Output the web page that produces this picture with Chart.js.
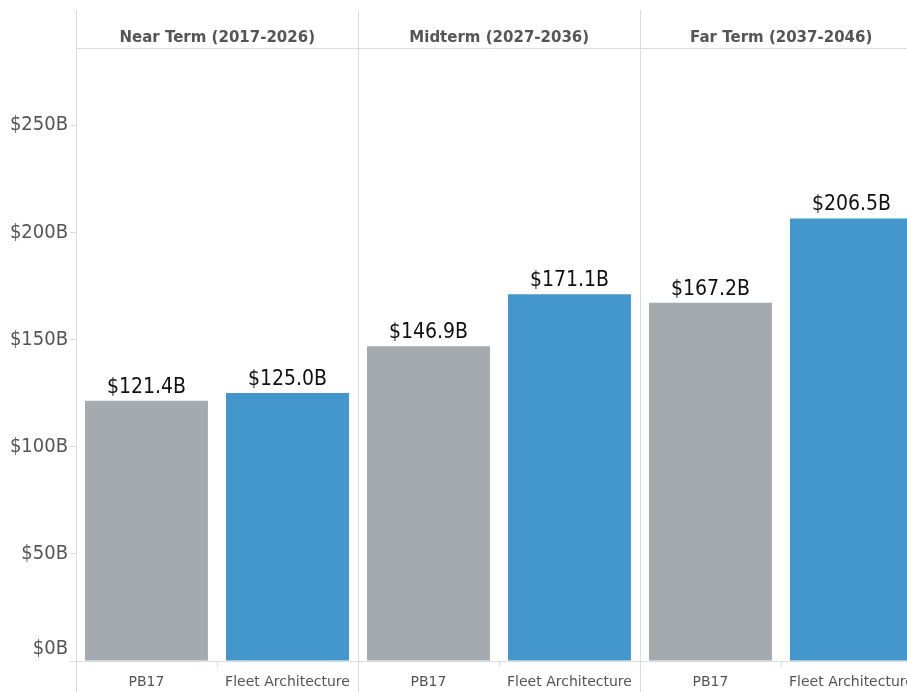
<!DOCTYPE html>
<html>
<head>
    <meta charset="utf-8">
    <title>Cost by term</title>
    <script src="https://cdn.jsdelivr.net/npm/chart.js@4.4.1/dist/chart.umd.min.js"></script>
    <style>
        html, body {
            margin: 0;
            padding: 0;
            background: #fff;
        }
        #wrap {
            width: 907px;
            height: 692px;
        }
    </style>
</head>
<body>
<div id="wrap">
    <canvas id="chart"></canvas>
</div>
<script>
    var terms = ['Near Term (2017-2026)', 'Midterm (2027-2036)', 'Far Term (2037-2046)'];
    var plans = ['PB17', 'Fleet Architecture'];
    var pb17 = [121.4, 146.9, 167.2];
    var fleet = [125.0, 171.1, 206.5];
    var yTicks = [0, 50, 100, 150, 200, 250];

    var colors = ['#a5aaae', '#4497cc'];
    var condensed = '"DejaVu Sans Condensed", "DejaVu Sans", sans-serif';
    var regular = '"DejaVu Sans", sans-serif';
    var lineColor = '#dcdcdc';

    // one point per (term, plan), x = index on a linear axis
    var points = [];
    var barColors = [];
    var xLabels = [];
    for (var t = 0; t < terms.length; t++) {
        points.push({ x: t * 2, y: pb17[t] });
        points.push({ x: t * 2 + 1, y: fleet[t] });
        barColors.push(colors[0], colors[1]);
        xLabels.push(plans[0], plans[1]);
    }

    var panes = {
        id: 'panes',
        afterDraw: function (chart) {
            var c = chart.ctx;
            var area = chart.chartArea;
            var xs = chart.scales.x;
            c.save();
            c.strokeStyle = lineColor;
            c.lineWidth = 1;
            // header line
            c.beginPath();
            c.moveTo(area.left, area.top + 0.5);
            c.lineTo(area.right, area.top + 0.5);
            c.stroke();
            for (var t = 0; t < terms.length; t++) {
                var x0 = Math.round(xs.getPixelForValue(t * 2 - 0.5)) + 0.5;
                var x1 = xs.getPixelForValue(t * 2 + 1.5);
                // pane separator
                c.beginPath();
                c.moveTo(x0, 10);
                c.lineTo(x0, chart.height);
                c.stroke();
                // small tick between the two bars
                var xm = Math.round(xs.getPixelForValue(t * 2 + 0.5)) + 0.5;
                c.beginPath();
                c.moveTo(xm, area.bottom);
                c.lineTo(xm, area.bottom + 6);
                c.stroke();
                // header
                c.fillStyle = '#555';
                c.font = 'bold 15px ' + regular;
                c.textAlign = 'center';
                c.textBaseline = 'middle';
                c.fillText(terms[t], (x0 + x1) / 2, 38);
            }
            // value labels
            var meta = chart.getDatasetMeta(0);
            c.fillStyle = '#111';
            c.font = '21px ' + condensed;
            c.textAlign = 'center';
            c.textBaseline = 'bottom';
            meta.data.forEach(function (bar, i) {
                var v = chart.data.datasets[0].data[i].y;
                c.fillText('$' + v.toFixed(1) + 'B', bar.x, bar.y - 3);
            });
            c.restore();
        }
    };

    var options = {
        type: 'bar',
        data: {
            datasets: [{
                label: 'Cost',
                data: points,
                backgroundColor: barColors,
                borderWidth: 0,
                categoryPercentage: 1,
                barPercentage: 0.872
            }]
        },
        options: {
            responsive: true,
            maintainAspectRatio: false,
            animation: false,
            layout: {
                padding: { top: 48, left: 0, right: 0, bottom: 0 }
            },
            plugins: {
                legend: { display: false },
                tooltip: { enabled: false }
            },
            scales: {
                x: {
                    type: 'linear',
                    offset: false,
                    min: -0.5,
                    max: 5.394,
                    grid: { display: false },
                    border: { display: true, color: lineColor },
                    afterBuildTicks: function (axis) {
                        axis.ticks = xLabels.map(function (l, i) { return { value: i }; });
                    },
                    afterFit: function (axis) {
                        axis.height = 31;
                        axis.paddingLeft = 0;
                        axis.paddingRight = 0;
                    },
                    ticks: {
                        autoSkip: false,
                        maxRotation: 0,
                        padding: 5,
                        color: '#555',
                        font: { family: regular, size: 14 },
                        callback: function (v) { return xLabels[v]; }
                    }
                },
                y: {
                    min: 0,
                    max: 286,
                    border: { display: false },
                    grid: {
                        drawOnChartArea: false,
                        color: lineColor,
                        tickLength: 6
                    },
                    afterBuildTicks: function (axis) {
                        axis.ticks = yTicks.map(function (v) { return { value: v }; });
                    },
                    afterFit: function (axis) {
                        axis.width = 76;
                        axis.paddingTop = 0;
                        axis.paddingBottom = 0;
                    },
                    ticks: {
                        padding: 2,
                        color: '#555',
                        font: { family: condensed, size: 20 },
                        callback: function (v) {
                            var s = '$' + v + 'B';
                            // bottom label sits just above the baseline
                            return v === 0 ? [s, ''] : s;
                        }
                    }
                }
            }
        },
        plugins: [panes]
    };

    var ctx = document.getElementById('chart').getContext('2d');
    window.chart = new Chart(ctx, options);
</script>
</body>
</html>
